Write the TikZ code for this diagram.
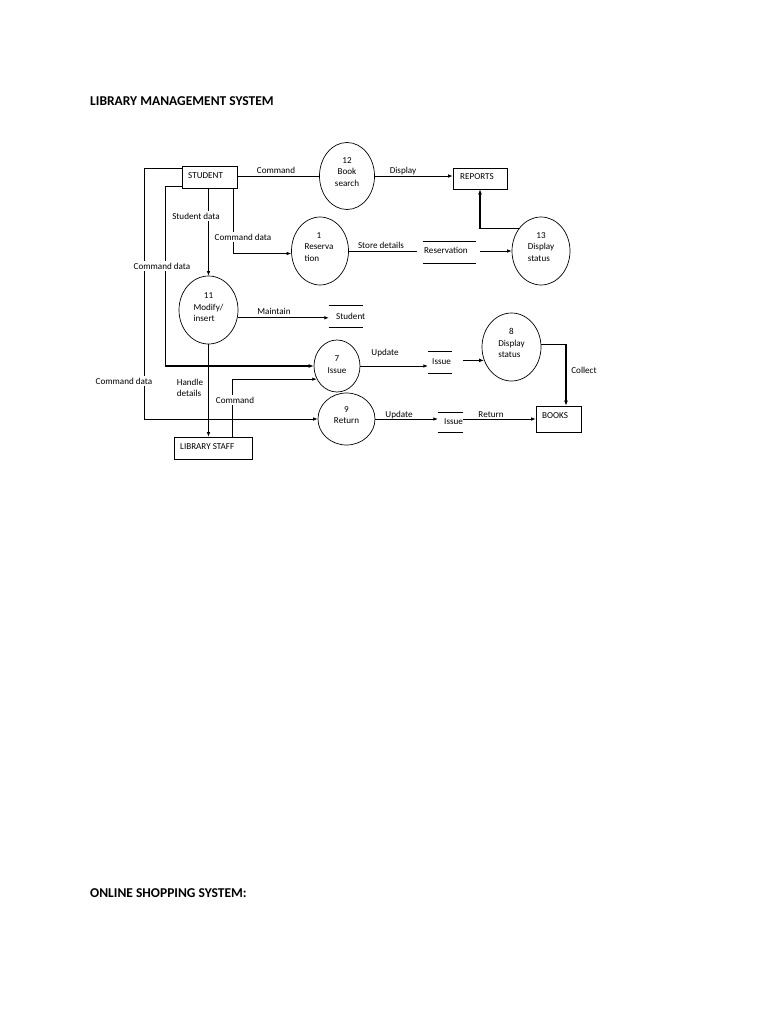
\documentclass[tikz,border=0pt]{standalone}
\usepackage{fontspec}
\setmainfont{Carlito}
\usetikzlibrary{shapes.geometric,arrows.meta}
\newcommand{\lft}[1]{\begin{tabular}{@{}l@{}}#1\end{tabular}}
\newcommand{\ctr}[1]{\multicolumn{1}{@{}c@{}}{#1}}
\begin{document}
\begin{tikzpicture}[x=1pt,y=-1pt,
  every node/.style={font=\fontsize{9.1}{11}\selectfont, inner sep=1pt},
  proc/.style={draw, ellipse, line width=0.7pt, inner sep=0pt},
  ptext/.style={align=center, inner sep=0pt, font=\fontsize{9.1}{11.3}\selectfont},
  ent/.style={draw, rectangle, line width=0.7pt, inner sep=0pt},
  store/.style={rectangle, inner sep=0pt},
  lbl/.style={inner sep=1pt},
  wlbl/.style={fill=white, inner sep=1.5pt},
  flow/.style={line width=0.7pt},
  arr/.style={line width=0.7pt, -{Latex[length=4.5pt,width=3.5pt]}},
  tarr/.style={line width=1.5pt, -{Latex[length=5pt,width=4pt]}},
  title/.style={font=\fontsize{13.5}{15}\selectfont\bfseries, anchor=west, inner sep=0pt}
]
\useasboundingbox[fill=white] (0,0) rectangle (768,1024);

\node[title] (t1) at (90,101) {LIBRARY MANAGEMENT SYSTEM};
\node[title] (t2) at (90,893) {ONLINE SHOPPING SYSTEM:};

% entities
\node[ent, minimum width=55pt, minimum height=22pt] (stu) at (209.5,177) {};
\node[anchor=west] (stut) at (187,176) {STUDENT};
\node[ent, minimum width=54pt, minimum height=21pt] (rep) at (480,178.5) {};
\node[anchor=west] (rept) at (459,177) {REPORTS};
\node[ent, minimum width=45pt, minimum height=26pt] (books) at (558.5,419) {};
\node[anchor=west] (bookst) at (541,416) {BOOKS};
\node[ent, minimum width=78pt, minimum height=22pt] (lib) at (213,448) {};
\node[anchor=west] (libt) at (179,447) {LIBRARY STAFF};

% processes
\node[proc, minimum width=55pt, minimum height=67pt] (c12) at (347,176) {};
\node[proc, minimum width=57pt, minimum height=68pt] (c1) at (320,251) {};
\node[proc, minimum width=58pt, minimum height=68pt] (c13) at (541,251) {};
\node[proc, minimum width=59pt, minimum height=68pt] (c11) at (208.5,310) {};
\node[proc, minimum width=46pt, minimum height=52pt] (c7) at (337,366) {};
\node[proc, minimum width=59pt, minimum height=68pt] (c8) at (511.5,347) {};
\node[proc, minimum width=57pt, minimum height=52pt] (c9) at (346.5,419) {};

\node[ptext] (c12t) at ([yshift=4pt]c12.center) {12\\Book\\search};
\node[ptext] (c1t) at ([yshift=3.5pt,xshift=-1pt]c1.center) {\lft{\ctr{1}\\Reserva\\tion}};
\node[ptext] (c13t) at ([yshift=3.5pt]c13.center) {\lft{\ctr{13}\\Display\\status}};
\node[ptext] (c11t) at ([yshift=2pt]c11.center) {\lft{\ctr{11}\\Modify/\\insert}};
\node[ptext] (c7t) at ([yshift=1.5pt]c7.center) {7\\Issue};
\node[ptext] (c8t) at ([yshift=3pt]c8.center) {\lft{\ctr{8}\\Display\\status}};
\node[ptext] (c9t) at ([yshift=4pt]c9.center) {9\\Return};

% data stores
\node[store, minimum width=53pt, minimum height=21pt] (res) at (449.5,252.5) {};
\node[anchor=west] (rest) at (423,250) {Reservation};
\node[store, minimum width=34pt, minimum height=21pt] (stud) at (346,316.5) {};
\node[anchor=west] (studt) at (335,316) {Student};
\node[store, minimum width=24pt, minimum height=21pt] (is1) at (440,362.5) {};
\node[anchor=west] (is1t) at (431,362) {Issue};
\node[store, minimum width=25pt, minimum height=19pt] (is2) at (450.5,422.5) {};
\node[anchor=west] (is2t) at (443,422) {Issue};
\foreach \s in {res,stud,is1,is2}{
  \draw[flow] (\s.north west) -- (\s.north east) (\s.south west) -- (\s.south east);
}

% helper coordinates
\coordinate (L1) at (144,168);
\coordinate (L2) at (165,186);
\coordinate (L2b) at (165,366);
\coordinate (X233) at (233,0);
\coordinate (X232) at (232,0);
\coordinate (X566) at (566,0);

% flows
\draw[flow] (stu.east |- c12.west) -- (c12.west);
\draw[arr] (c12.east) -- (c12.east -| rep.west);
\draw[tarr] (c13.135) -| (rep.south);
\draw[flow, shorten >=6pt] (c1.east) -- (c1.east -| res.west);
\draw[arr, shorten <=4pt] (res.east |- c13.west) -- (c13.west);
\draw[arr] (c11.north |- stu.south) -- (c11.north);
\draw[arr] (X233 |- stu.south) |- (c1.185);
\draw[arr] (c11.-15) -- (c11.-15 -| stud.west);
\draw[flow] (stu.west |- L1) -- (L1);
\draw[arr] (L1) |- (c9.west);
\draw[flow] (stu.west |- L2) -- (L2) -- (L2b);
\draw[tarr] (L2b) -- (c7.west);
\draw[arr] (c11.south) -- (c11.south |- lib.north);
\draw[arr] (X232 |- lib.north) |- (c7.-147);
\draw[arr] (c7.east) -- (c7.east -| is1.west);
\draw[tarr, shorten <=11pt] (is1.east |- c8.206) -- (c8.206);
\draw[tarr] (c8.5) -| (X566 |- books.north);
\draw[arr] (c9.east) -- (c9.east -| is2.west);
\draw[arr] (is2.east |- c9.east) -- (is2.east |- c9.east -| books.west);

% labels
\node[lbl] (l1) at (276,170) {Command};
\node[lbl] (l2) at (403,171) {Display};
\node[wlbl] (l3) at (196,216) {Student data};
\node[wlbl] (l4) at (243,237) {Command data};
\node[wlbl] (l5) at (162,266) {Command data};
\node[lbl] (l6) at (381,245) {Store details};
\node[lbl] (l7) at (274,311) {Maintain};
\node[lbl] (l8) at (385,353) {Update};
\node[lbl] (l9) at (584,370) {Collect};
\node[wlbl] (l10) at (124,381) {Command data};
\node[lbl, align=left] (l11) at (190,388) {Handle\\details};
\node[wlbl] (l12) at (235,400) {Command};
\node[lbl] (l13) at (399,415) {Update};
\node[lbl] (l14) at (491,415) {Return};
\end{tikzpicture}
\end{document}
